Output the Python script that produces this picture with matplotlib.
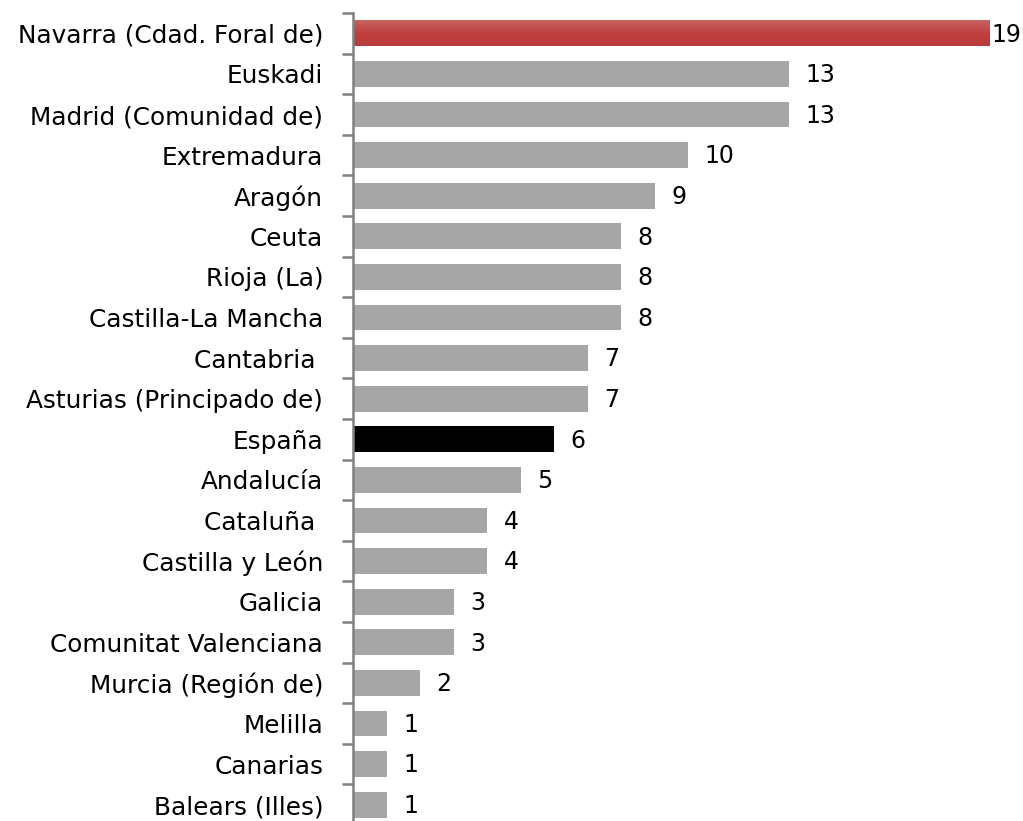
import matplotlib
matplotlib.use("Agg")
import matplotlib.pyplot as plt
import numpy as np
from matplotlib.colors import LinearSegmentedColormap

categories = ["Navarra (Cdad. Foral de)", "Euskadi", "Madrid (Comunidad de)", "Extremadura",
              "Aragón", "Ceuta", "Rioja (La)", "Castilla-La Mancha", "Cantabria ",
              "Asturias (Principado de)", "España", "Andalucía", "Cataluña ",
              "Castilla y León", "Galicia", "Comunitat Valenciana", "Murcia (Región de)",
              "Melilla", "Canarias", "Balears (Illes)"]
values = [19, 13, 13, 10, 9, 8, 8, 8, 7, 7, 6, 5, 4, 4, 3, 3, 2, 1, 1, 1]

highlight = {"Navarra (Cdad. Foral de)": "red", "España": "#000000"}

plt.rcParams['font.family'] = ['DejaVu Sans']

W, H = 1023, 821
fig = plt.figure(figsize=(W / 100, H / 100), dpi=100)
ax_left = 353 / W
ax_w = 670 / W
ax_top = 13
ax_bot = 825
ax = fig.add_axes([ax_left, (H - ax_bot) / H, ax_w, (ax_bot - ax_top) / H])

n = len(categories)
y = np.arange(n)
bar_h = 0.64
colors = []
for c in categories:
    col = highlight.get(c, "#A6A6A6")
    colors.append("none" if col == "red" else col)
bars = ax.barh(y, values, height=bar_h, color=colors, edgecolor="none", zorder=2)

# gradient red bar
cmap = LinearSegmentedColormap.from_list("redgrad", ["#C66361", "#C0403F", "#B83B3B"])
for i, c in enumerate(categories):
    if highlight.get(c) == "red":
        grad = np.linspace(0, 1, 64).reshape(-1, 1)
        ax.imshow(grad, cmap=cmap, aspect="auto",
                  extent=(0, values[i], i + bar_h / 2, i - bar_h / 2),
                  zorder=2, interpolation="bilinear")

ax.set_ylim(n - 0.5, -0.5)
ax.set_xlim(0, 20)
ax.set_yticks(y)
ax.set_yticklabels(categories, fontsize=17.8, color="#000000")
ax.set_yticks(np.arange(n + 1) - 0.5, minor=True)
ax.tick_params(axis="y", which="major", length=0, pad=21.5)
ax.tick_params(axis="y", which="minor", length=8, width=1.8, color="#808080", direction="out")
ax.set_xticks([])
for s in ["top", "right", "bottom"]:
    ax.spines[s].set_visible(False)
ax.spines["left"].set_color("#808080")
ax.spines["left"].set_linewidth(1.8)

vmax = max(values)
for i, v in enumerate(values):
    off = 1.5 if v == vmax else 12
    ax.annotate(str(v), xy=(v, i), xytext=(off, -1), textcoords="offset points",
                va="center", ha="left", fontsize=17, color="#000000", annotation_clip=False)

fig.savefig("out.png", dpi=100)
